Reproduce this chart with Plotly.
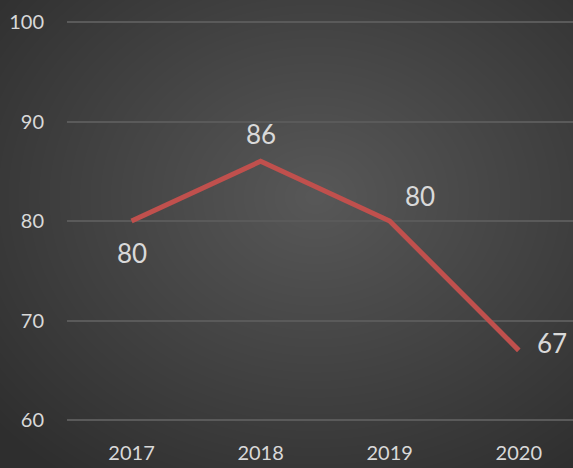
import base64
import struct
import zlib

import numpy as np
import plotly.graph_objects as go

years = ["2017", "2018", "2019", "2020"]
values = [80, 86, 80, 67]
# label offsets in pixels (dx, dy) relative to each point
label_dx = [0, 0, 30, 33]
label_dy = [-32, 27, 25, 7]

W, H = 573, 468


def gradient_png(w, h):
    # radial background like the office chart style
    yy, xx = np.mgrid[0:h, 0:w]
    d = np.sqrt(((xx - w * 0.55) / (w * 0.75)) ** 2 + ((yy - h * 0.42) / (h * 0.75)) ** 2)
    d = np.clip(d, 0, 1)
    v = (88 - (88 - 46) * d).astype(np.uint8)
    rows = b"".join(b"\x00" + bytes(np.repeat(r, 3)) for r in v)

    def chunk(tag, data):
        c = struct.pack(">I", len(data)) + tag + data
        return c + struct.pack(">I", zlib.crc32(tag + data) & 0xFFFFFFFF)

    png = b"\x89PNG\r\n\x1a\n"
    png += chunk(b"IHDR", struct.pack(">IIBBBBB", w, h, 8, 2, 0, 0, 0))
    png += chunk(b"IDAT", zlib.compress(rows, 9))
    png += chunk(b"IEND", b"")
    return "data:image/png;base64," + base64.b64encode(png).decode()


fig = go.Figure(go.Scatter(
    x=years, y=values,
    mode="lines",
    line=dict(color="#C0504D", width=5),
    hoverinfo="skip",
))

# category index positions for the value labels
for i, (v, dx, dy) in enumerate(zip(values, label_dx, label_dy)):
    fig.add_annotation(x=i, y=v, text=str(v), showarrow=False,
                       xshift=dx, yshift=dy,
                       font=dict(size=26, color="#D9D9D9"))

fig.update_layout(
    width=W, height=H,
    margin=dict(l=67, r=0, t=20, b=46),
    paper_bgcolor="#404040",
    plot_bgcolor="rgba(0,0,0,0)",
    font=dict(family="Lato, Open Sans, sans-serif", color="#D9D9D9", size=20),
    showlegend=False,
    images=[dict(source=gradient_png(W, H), xref="paper", yref="paper",
                 x=-67 / 506, y=1 + 20 / 402, sizex=W / 506, sizey=H / 402,
                 xanchor="left", yanchor="top", sizing="stretch", layer="below")],
)
fig.update_xaxes(type="category", range=[-0.5, 3.42], showgrid=False,
                 showline=False, ticks="", ticklabelstandoff=17,
                 tickfont=dict(size=20))
fig.update_yaxes(range=[59.8, 100.2], tickvals=[60, 70, 80, 90, 100],
                 gridcolor="#5A5A5A", gridwidth=2, zeroline=False,
                 showline=False, ticks="", ticklabelstandoff=22,
                 tickfont=dict(size=20))

fig.write_html("out.html", config={"displayModeBar": False},
               post_script="document.body.style.margin='0';")
